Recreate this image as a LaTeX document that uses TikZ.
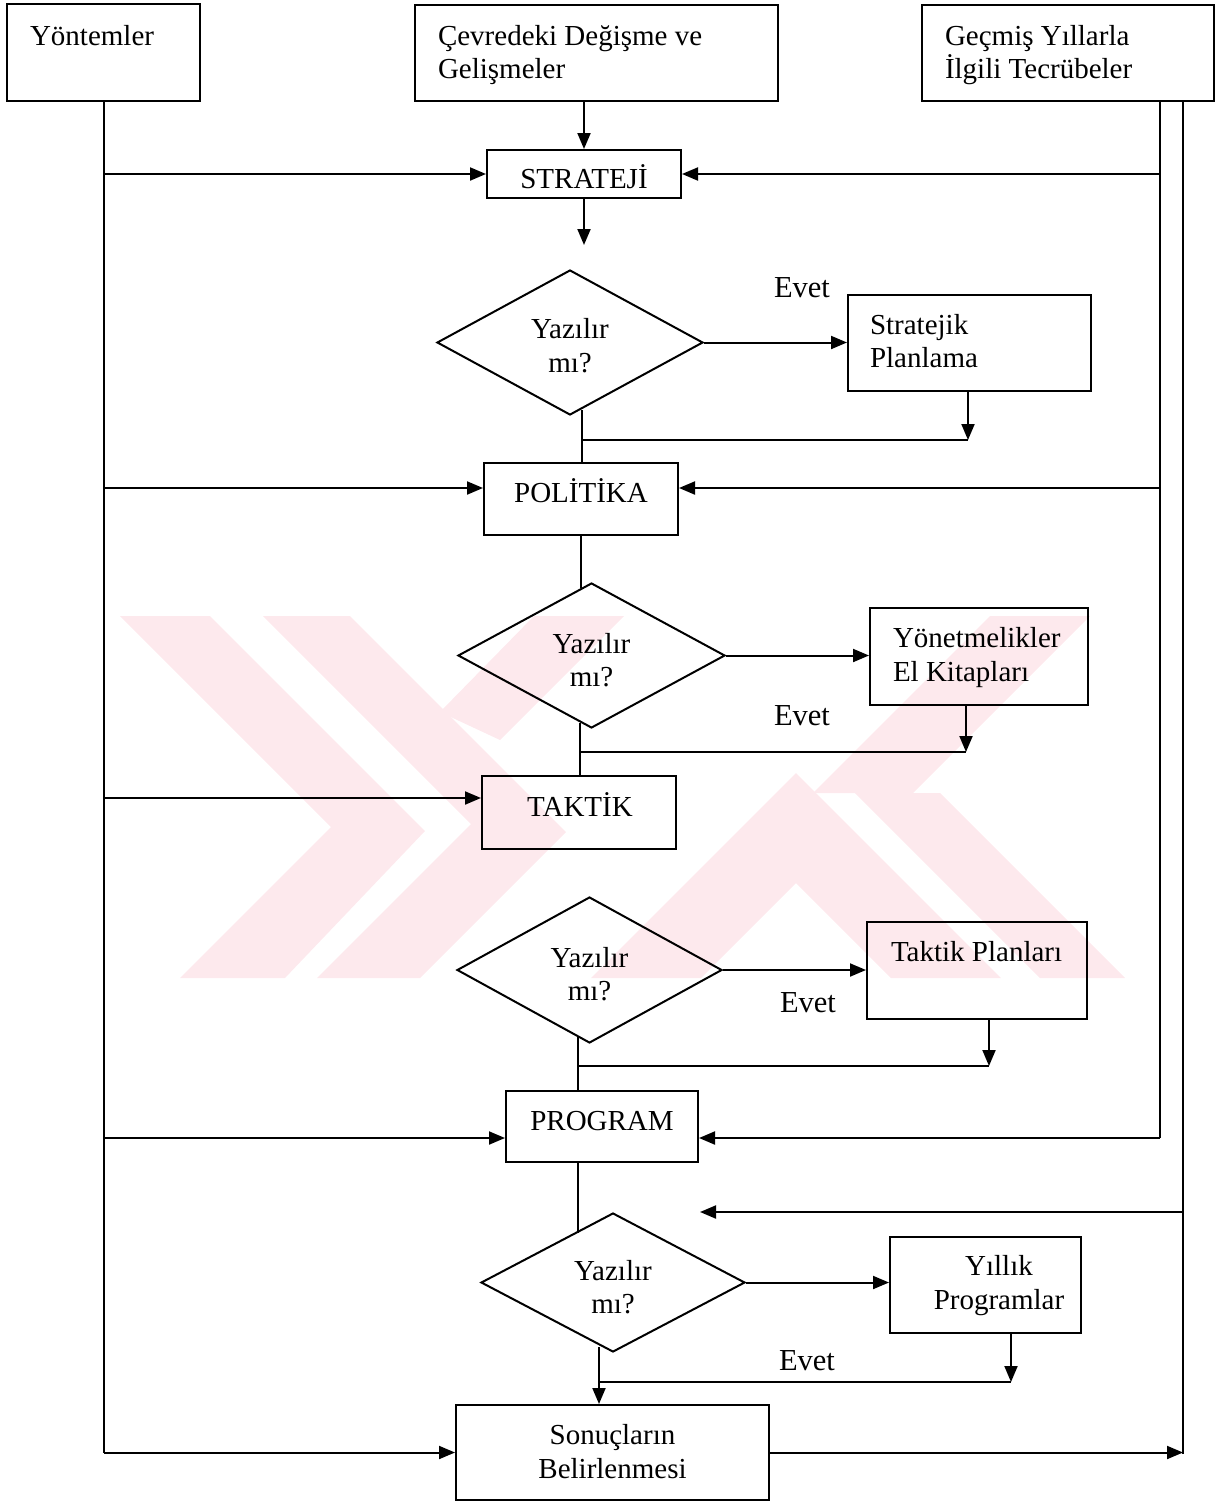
\documentclass[tikz,border=0pt]{standalone}
\usepackage{fontspec}
\setmainfont{Liberation Serif}
\usetikzlibrary{arrows.meta,shapes.geometric,calc}
\definecolor{wm}{RGB}{253,233,237}
\begin{document}
\begin{tikzpicture}[x=1pt,y=-1pt,
  line width=2pt,
  every node/.style={font=\fontsize{29}{34}\selectfont},
  box/.style={draw,rectangle,inner sep=0pt},
  dia/.style={draw,diamond,inner sep=0pt},
  txt/.style={inner sep=0pt,anchor=base},
  txtl/.style={inner sep=0pt,anchor=base west},
  evet/.style={inner sep=0pt,anchor=base,font=\fontsize{30.5}{34}\selectfont},
  arr/.style={-{Triangle[length=16pt,width=13pt]}}
]
\useasboundingbox (0,0) rectangle (1221,1502);
% watermark
\fill[wm] (120,616) -- (210,616) -- (425,831) -- (285,978) -- (180,978) -- (331,827) -- cycle;
\fill[wm] (263,616) -- (350,616) -- (566,832) -- (420,978) -- (317,978) -- (471,824) -- cycle;
\fill[wm] (534,616) -- (624,616) -- (500,740) -- (440,712) -- cycle;
\fill[wm] (591,978) -- (796,773) -- (1001,978) -- (891,978) -- (796,883) -- (701,978) -- cycle;
\fill[wm] (990,616) -- (1090,616) -- (913,793) -- (813,793) -- cycle;
\fill[wm] (1040,978) -- (1125,978) -- (940,793) -- (855,793) -- cycle;

% top boxes
\node[box,minimum width=193pt,minimum height=97pt] (yon) at (103.5,52.5) {};
\node[txtl] (tyon) at (29,45) {Yöntemler};
\node[box,minimum width=363pt,minimum height=96pt] (cev) at (596.5,53) {};
\node[txtl] (tcev1) at (437,45) {Çevredeki Değişme ve};
\node[txtl] (tcev2) at (437,78) {Gelişmeler};
\node[box,minimum width=292pt,minimum height=96pt] (gec) at (1068,53) {};
\node[txtl] (tgec1) at (944,45) {Geçmiş Yıllarla};
\node[txtl] (tgec2) at (944,78) {İlgili Tecrübeler};

% strateji
\node[box,minimum width=194pt,minimum height=48pt] (str) at (584,174) {};
\node[txt] (tstr) at (584,188) {STRATEJİ};
\coordinate (sdn) at (584,245);

% level 1
\node[dia,minimum width=266pt,minimum height=145pt] (d1) at (570,342.5) {};
\node[txt] (td1a) at (570,338) {Yazılır};
\node[txt] (td1b) at (570,372) {mı?};
\node[box,minimum width=243pt,minimum height=96pt] (stp) at (969.5,343) {};
\node[txtl] (tstp1) at (869,334) {Stratejik};
\node[txtl] (tstp2) at (869,367) {Planlama};
\node[evet] (ev1) at (802,297) {Evet};
\coordinate (j1l) at (582,440);
\coordinate (j1r) at (968,440);

\node[box,minimum width=194pt,minimum height=72pt] (pol) at (581,499) {};
\node[txt] (tpol) at (581,502) {POLİTİKA};

% level 2
\node[dia,minimum width=267pt,minimum height=145pt] (d2) at (591.5,655.5) {};
\node[txt] (td2a) at (591.5,653) {Yazılır};
\node[txt] (td2b) at (591.5,686) {mı?};
\node[box,minimum width=218pt,minimum height=97pt] (yon2) at (979,656.5) {};
\node[txtl] (tyon2a) at (892,647) {Yönetmelikler};
\node[txtl] (tyon2b) at (892,681) {El Kitapları};
\node[evet] (ev2) at (802,725) {Evet};
\coordinate (j2l) at (580,752);
\coordinate (j2r) at (966,752);

\node[box,minimum width=194pt,minimum height=73pt] (tak) at (579,812.5) {};
\node[txt] (ttak) at (580,816) {TAKTİK};

% level 3
\node[dia,minimum width=265pt,minimum height=146pt] (d3) at (589.5,970) {};
\node[txt] (td3a) at (589.5,967) {Yazılır};
\node[txt] (td3b) at (589.5,1000) {mı?};
\node[box,minimum width=220pt,minimum height=97pt] (tpl) at (977,970.5) {};
\node[txtl] (ttpl) at (890,961) {Taktik Planları};
\node[evet] (ev3) at (808,1012) {Evet};
\coordinate (j3l) at (578,1066);
\coordinate (j3r) at (989,1066);

\node[box,minimum width=192pt,minimum height=71pt] (prg) at (602,1126.5) {};
\node[txt] (tprg) at (602,1130) {PROGRAM};
\coordinate (pb) at (578,1233);

% level 4
\node[dia,minimum width=264pt,minimum height=139pt] (d4) at (613,1282.5) {};
\node[txt] (td4a) at (613,1280) {Yazılır};
\node[txt] (td4b) at (613,1313) {mı?};
\node[box,minimum width=191pt,minimum height=96pt] (yil) at (985.5,1285) {};
\node[txt] (tyil1) at (999,1275) {Yıllık};
\node[txt] (tyil2) at (999,1309) {Programlar};
\node[evet] (ev4) at (807,1370) {Evet};
\coordinate (j4l) at (599,1382);
\coordinate (j4r) at (1011,1382);

\node[box,minimum width=313pt,minimum height=95pt] (son) at (612.5,1452.5) {};
\node[txt] (tson1) at (612.5,1444) {Sonuçların};
\node[txt] (tson2) at (612.5,1478) {Belirlenmesi};

% side lines
\coordinate (Lt) at (yon.south);
\coordinate (Lb) at (yon.south |- son.west);
\coordinate (Lp) at (103.5,488);
\coordinate (Lk) at (103.5,798);
\coordinate (Lg) at (103.5,1138);
\coordinate (R1t) at (1160,101);
\coordinate (R1b) at (1160,1138);
\coordinate (R2t) at (1183,101);
\coordinate (R2b) at (1183,1454);
\coordinate (R2m) at (1183,1212);
\coordinate (pend) at (700,1212);

% connectors
\draw[arr] (str.north |- cev.south) -- (str.north);
\draw[arr] (str.south) -- (sdn);
\draw[arr] (d1.east) -- (d1.east -| stp.west);
\draw[arr] (stp.south -| j1r) -- (j1r);
\draw (j1l) -- (j1r);
\draw ($(j1l |- d1.south)+(0,-6)$) -- (j1l |- pol.north);

\draw (pol.south) -- ($(pol.south |- d2.north)+(0,6)$);
\draw[arr] (d2.east) -- (d2.east -| yon2.west);
\draw[arr] (yon2.south -| j2r) -- (j2r);
\draw (j2l) -- (j2r);
\draw ($(j2l |- d2.south)+(0,-6)$) -- (j2l |- tak.north);

\draw[arr] (d3.east) -- (d3.east -| tpl.west);
\draw[arr] (tpl.south -| j3r) -- (j3r);
\draw (j3l) -- (j3r);
\draw ($(j3l |- d3.south)+(0,-7)$) -- (j3l |- prg.north);

\draw (pb |- prg.south) -- (pb);
\draw[arr] (d4.east) -- (d4.east -| yil.west);
\draw[arr] (yil.south -| j4r) -- (j4r);
\draw (j4l) -- (j4r);
\draw[arr] ($(j4l |- d4.south)+(0,-6)$) -- (j4l |- son.north);

\draw (Lt) -- (Lb);
\draw[arr] (Lt |- str.west) -- (str.west);
\draw[arr] (Lp) -- (Lp -| pol.west);
\draw[arr] (Lk) -- (Lk -| tak.west);
\draw[arr] (Lg) -- (Lg -| prg.west);
\draw[arr] (Lb) -- (son.west);

\draw (R1t) -- (R1b);
\draw[arr] (R1t |- str.east) -- (str.east);
\draw[arr] (R1t |- Lp) -- (Lp -| pol.east);
\draw[arr] (R1b) -- (R1b -| prg.east);

\draw (R2t) -- (R2b);
\draw[arr] (R2m) -- (pend);
\draw[arr] (son.east) -- (son.east -| R2b);
\end{tikzpicture}
\end{document}
